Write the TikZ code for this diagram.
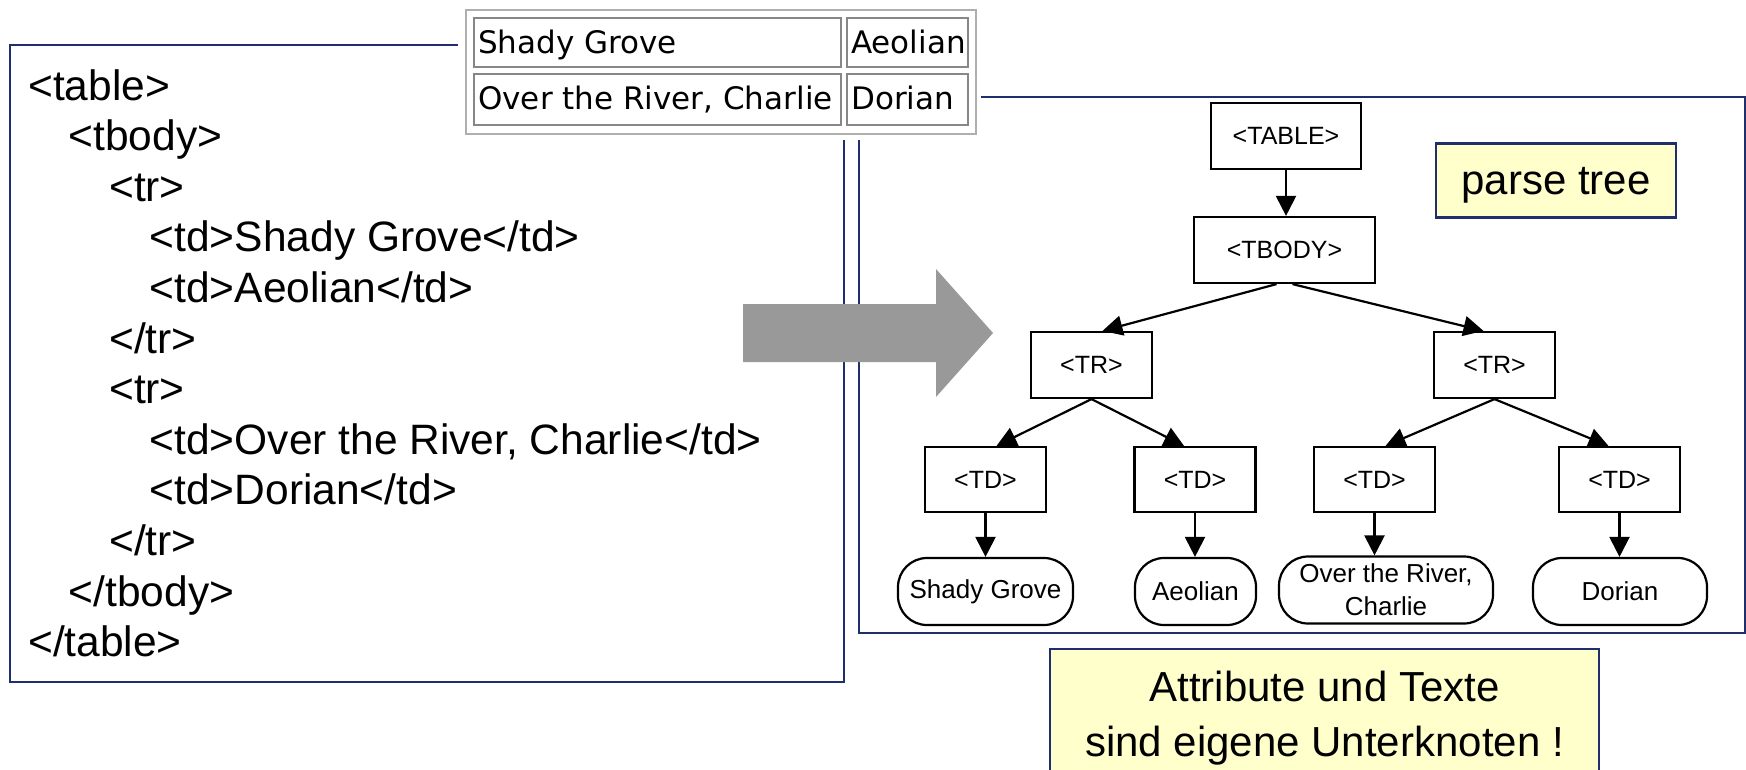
\documentclass[tikz,border=0pt]{standalone}
\usepackage{fontspec}
\setmainfont{Liberation Sans}
\newfontfamily\tabfont{DejaVu Sans}
\usetikzlibrary{arrows.meta}
\definecolor{navy}{RGB}{31,47,110}
\definecolor{notefill}{RGB}{255,255,204}
\definecolor{arrowgray}{RGB}{153,153,153}
\definecolor{cellgray}{RGB}{135,135,135}
\definecolor{outergray}{RGB}{175,175,175}
\tikzset{
  panel/.style={draw=navy, line width=2.4pt, inner sep=0pt, anchor=north west},
  codeline/.style={anchor=base west, inner sep=0pt, font=\fontsize{42.5}{50}\selectfont},
  tabcell/.style={draw=cellgray, line width=2pt, inner sep=0pt, anchor=north west},
  tabtext/.style={anchor=base west, inner sep=0pt, font=\tabfont\fontsize{31}{36}\selectfont},
  treebox/.style={draw=black, line width=2.2pt, inner sep=0pt, minimum width=121pt, minimum height=65pt, font=\fontsize{25}{30}\selectfont},
  leafbox/.style={draw=black, line width=2.2pt, inner sep=0pt, rounded corners=29pt, minimum height=67pt, align=center, font=\fontsize{26}{33}\selectfont},
  treeedge/.style={line width=2.2pt, -{Triangle[length=20pt,width=20pt]}},
  notebox/.style={draw=navy, fill=notefill, line width=2.4pt, inner sep=0pt, align=center, font=\fontsize{42}{55}\selectfont}
}
\begin{document}
\begin{tikzpicture}[x=1pt,y=-1pt]
\useasboundingbox (0,0) rectangle (1746,769);
\fill[white] (0,0) rectangle (1746,769);

% panels
\node[panel, minimum width=834pt, minimum height=637pt] (codepanel) at (9,44) {};
\node[panel, minimum width=886pt, minimum height=536pt] (treepanel) at (858,96) {};

% code lines
\node[codeline] (c1) at (28,100) {<table>};
\node[codeline] (c2) at (68.5,150.6) {<tbody>};
\node[codeline] (c3) at (109,201.2) {<tr>};
\node[codeline] (c4) at (149.5,251.8) {<td>Shady Grove</td>};
\node[codeline] (c5) at (149.5,302.4) {<td>Aeolian</td>};
\node[codeline] (c6) at (109,353) {</tr>};
\node[codeline] (c7) at (109,403.6) {<tr>};
\node[codeline] (c8) at (149.5,454.2) {<td>Over the River, Charlie</td>};
\node[codeline] (c9) at (149.5,504.8) {<td>Dorian</td>};
\node[codeline] (c10) at (109,555.4) {</tr>};
\node[codeline] (c11) at (68.5,606) {</tbody>};
\node[codeline] (c12) at (28,656.6) {</table>};

% rendered table
\fill[white] (458,0) rectangle (981,140);
\node[draw=outergray, line width=2pt, inner sep=0pt, anchor=north west, minimum width=510pt, minimum height=124pt] (tableframe) at (465,9) {};
\node[tabcell, minimum width=367pt, minimum height=49pt] (cellA) at (473,17) {};
\node[tabcell, minimum width=121pt, minimum height=49pt] (cellB) at (846,17) {};
\node[tabcell, minimum width=367pt, minimum height=51pt] (cellC) at (473,73) {};
\node[tabcell, minimum width=121pt, minimum height=51pt] (cellD) at (846,73) {};
\node[tabtext] (tA) at (478,53) {Shady Grove};
\node[tabtext] (tB) at (851,53) {Aeolian};
\node[tabtext] (tC) at (478,109) {Over the River, Charlie};
\node[tabtext] (tD) at (851,109) {Dorian};

% parse tree
\node[treebox, minimum width=150pt, minimum height=66pt] (ttable) at (1286,136) {<TABLE>};
\node[treebox, minimum width=181pt, minimum height=66pt] (ttbody) at (1284.5,250) {<TBODY>};
\node[treebox, minimum height=66pt] (trl) at (1091.5,365) {<TR>};
\node[treebox, minimum height=66pt] (trr) at (1494.5,365) {<TR>};
\node[treebox] (td1) at (985.5,479.5) {<TD>};
\node[treebox] (td2) at (1195,479.5) {<TD>};
\node[treebox] (td3) at (1374.5,479.5) {<TD>};
\node[treebox] (td4) at (1619.5,479.5) {<TD>};
\node[leafbox, minimum width=175pt] (lf1) at (985.5,591.5) {Shady Grove};
\node[leafbox, minimum width=121pt] (lf2) at (1195.5,591.5) {Aeolian};
\node[leafbox, minimum width=214pt] (lf3) at (1386,590) {Over the River,\\Charlie};
\node[leafbox, minimum width=174pt] (lf4) at (1620,591.5) {Dorian};

\draw[treeedge] (ttable.south) -- (ttable.south |- ttbody.north);
\draw[treeedge] ([xshift=-8pt]ttbody.south) -- ([xshift=11pt]trl.north);
\draw[treeedge] ([xshift=8pt]ttbody.south) -- ([xshift=-11pt]trr.north);
\draw[treeedge] (trl.south) -- ([xshift=11pt]td1.north);
\draw[treeedge] (trl.south) -- ([xshift=-11pt]td2.north);
\draw[treeedge] (trr.south) -- ([xshift=11pt]td3.north);
\draw[treeedge] (trr.south) -- ([xshift=-11pt]td4.north);
\draw[treeedge] (td1.south) -- (td1.south |- lf1.north);
\draw[treeedge] (td2.south) -- (td2.south |- lf2.north);
\draw[treeedge] (td3.south) -- (td3.south |- lf3.north);
\draw[treeedge] (td4.south) -- (td4.south |- lf4.north);

% notes
\node[notebox, minimum width=240pt, minimum height=74pt, text depth=0pt] (ptnote) at (1556,180.5) {parse tree};
\node[notebox, minimum width=549pt, minimum height=139pt] (attrnote) at (1324.5,718.5) {Attribute und Texte\\sind eigene Unterknoten !};

% big gray arrow
\fill[arrowgray] (743,304) -- (936,304) -- (936,269) -- (993,333) -- (936,397) -- (936,362) -- (743,362) -- cycle;
\end{tikzpicture}
\end{document}
